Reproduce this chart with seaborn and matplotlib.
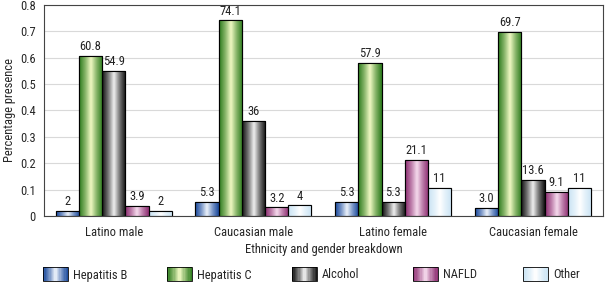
import numpy as np
import pandas as pd
import matplotlib
matplotlib.use("Agg")
import matplotlib.pyplot as plt
import seaborn as sns
from matplotlib.colors import LinearSegmentedColormap, to_rgb
from matplotlib.patches import Rectangle
from matplotlib.legend_handler import HandlerBase

# data
groups = ["Latino male", "Caucasian male", "Latino female", "Caucasian female"]
causes = ["Hepatitis B", "Hepatitis C", "Alcohol", "NAFLD", "Other"]
hep_b = [0.020, 0.053, 0.053, 0.030]
hep_c = [0.608, 0.741, 0.579, 0.697]
alcohol = [0.549, 0.360, 0.053, 0.136]
nafld = [0.039, 0.032, 0.211, 0.091]
other = [0.020, 0.040, 0.105, 0.105]
labels_b = ["2", "5.3", "5.3", "3.0"]
labels_c = ["60.8", "74.1", "57.9", "69.7"]
labels_alc = ["54.9", "36", "5.3", "13.6"]
labels_naf = ["3.9", "3.2", "21.1", "9.1"]
labels_oth = ["2", "4", "11", "11"]

series = [hep_b, hep_c, alcohol, nafld, other]
bar_labels = [labels_b, labels_c, labels_alc, labels_naf, labels_oth]

# (edge colour, centre colour) for the shaded bars
shades = {
    "Hepatitis B": ("#17479a", "#eef4fc"),
    "Hepatitis C": ("#2b7a1c", "#f2fac4"),
    "Alcohol": ("#101010", "#f2f2f2"),
    "NAFLD": ("#8c2c70", "#f6dcee"),
    "Other": ("#c9e3f4", "#ffffff"),
}

rows = []
for cause, vals in zip(causes, series):
    for g, v in zip(groups, vals):
        rows.append({"group": g, "cause": cause, "value": v})
df = pd.DataFrame(rows)

sns.set_style("white")
plt.rcParams["font.family"] = ["Liberation Sans Narrow", "Roboto Condensed", "Liberation Sans", "DejaVu Sans"]
FS = 9


def make_cmap(cause):
    dark, light = shades[cause]
    mid = tuple((np.array(to_rgb(dark)) + np.array(to_rgb(light))) / 2)
    return LinearSegmentedColormap.from_list(
        cause, [(0, dark), (0.28, mid), (0.5, light), (0.72, mid), (1, dark)])


fig, ax = plt.subplots(figsize=(6.09, 2.86), dpi=100)
fig.subplots_adjust(left=0.072, right=0.99, top=0.983, bottom=0.245)

palette = {c: shades[c][0] for c in causes}
sns.barplot(data=df, x="group", y="value", hue="cause", hue_order=causes, order=groups,
            palette=palette, width=0.83, edgecolor="black", linewidth=0.8,
            saturation=1, legend=False, ax=ax)

# gradient fill inside each bar
grad = np.linspace(0, 1, 64).reshape(1, -1)
for cause, cont in zip(causes, ax.containers):
    cmap = make_cmap(cause)
    for bar in cont:
        x0, y0 = bar.get_x(), bar.get_y()
        w, h = bar.get_width(), bar.get_height()
        im = ax.imshow(grad, cmap=cmap, aspect="auto", extent=(x0, x0 + w, y0, y0 + h),
                       zorder=bar.get_zorder() + 0.1, interpolation="bicubic")
        im.set_clip_path(bar)
        ax.add_patch(Rectangle((x0, y0), w, h, fill=False, edgecolor="black", linewidth=0.8,
                               zorder=bar.get_zorder() + 0.2))

ax.set_xlim(-0.5, 3.5)
ax.set_ylim(0, 0.8)

for cont, labs in zip(ax.containers, bar_labels):
    ax.bar_label(cont, labels=labs, padding=2, fontsize=FS, color="#222222")

ax.set_yticks(np.arange(0, 0.81, 0.1))
ax.set_yticklabels(["0"] + [f"{v:.1f}" for v in np.arange(0.1, 0.81, 0.1)], fontsize=FS)
ax.yaxis.grid(True, color="#d9d9d9", linewidth=0.8)
ax.set_axisbelow(True)

ax.set_xticks(range(4))
ax.set_xticklabels(groups, fontsize=FS)
ax.set_xticks([-0.5, 0.5, 1.5, 2.5, 3.5], minor=True)
ax.tick_params(axis="x", which="major", length=0, pad=7)
ax.tick_params(axis="x", which="minor", length=4, width=0.8, color="#333333", direction="out")
ax.tick_params(axis="y", length=4, width=0.8, color="#333333", direction="out", pad=2)

ax.set_xlabel("Ethnicity and gender breakdown", fontsize=FS, labelpad=3)
ax.set_ylabel("Percentage presence", fontsize=FS, labelpad=3)
for s in ax.spines.values():
    s.set_color("#444444")
    s.set_linewidth(0.8)


class GradientHandler(HandlerBase):
    def create_artists(self, legend, orig_handle, xdescent, ydescent, width, height, fontsize, trans):
        cmap = make_cmap(orig_handle.get_label())
        arts = []
        n = 20
        for i in range(n):
            arts.append(Rectangle((-xdescent + width * i / n, -ydescent - 1), width / n + 0.3, height + 2,
                                  facecolor=cmap((i + 0.5) / n), edgecolor="none", transform=trans))
        arts.append(Rectangle((-xdescent, -ydescent - 1), width, height + 2, fill=False,
                              edgecolor="black", linewidth=0.6, transform=trans))
        return arts


# legend entries sit on a fixed grid under the chart
legend_x = [43, 167, 292, 413, 523]
for cause, lx in zip(causes, legend_x):
    h = Rectangle((0, 0), 1, 1, label=cause)
    fig.legend(handles=[h], labels=[cause], loc="center left",
               bbox_to_anchor=(lx / 609, 1 - 275 / 286), frameon=False,
               borderpad=0, borderaxespad=0, fontsize=FS, handlelength=2.0,
               handleheight=0.95, handletextpad=0.4,
               handler_map={Rectangle: GradientHandler()})

plt.savefig("out.png", dpi=100)
